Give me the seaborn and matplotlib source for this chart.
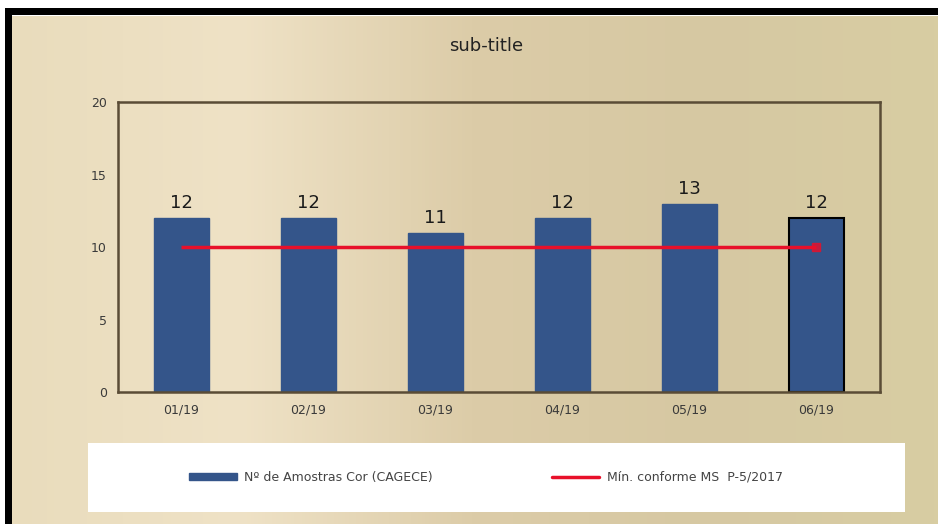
import numpy as np
import pandas as pd
import seaborn as sns
from matplotlib import pyplot as plt
from matplotlib.patches import Rectangle, Patch
from matplotlib.lines import Line2D
from matplotlib.colors import LinearSegmentedColormap

# Dados do grafico
meses = ["01/19", "02/19", "03/19", "04/19", "05/19", "06/19"]
amostras = [12, 12, 11, 12, 13, 12]
minimo = [10, 10, 10, 10, 10, 10]
rotulos = ["Nº de Amostras Cor (CAGECE)", "Mín. conforme MS  P-5/2017"]

df = pd.DataFrame({"mes": meses, "amostras": amostras, "minimo": minimo})

sns.set_style("white")
plt.rcParams['font.family'] = ['DejaVu Sans']

fig = plt.figure(figsize=(9.38, 5.24), dpi=100)
fig.patch.set_facecolor("white")

cor_barra = "#34558a"
cor_linha = "#e8102a"

# Fundo bege com gradiente
bg = fig.add_axes([0.0075, 0, 0.9925, 0.97])
grad = np.linspace(0, 1, 256).reshape(1, -1)
cmap = LinearSegmentedColormap.from_list("bege", ["#e9dcbc", "#efe2c6", "#dccca8", "#d6c8a2", "#d8cda2"])
bg.imshow(grad, aspect="auto", cmap=cmap, extent=[0, 1, 0, 1])
bg.set_axis_off()
bg.set_zorder(-10)

# Moldura preta (topo e esquerda)
fig.patches.append(Rectangle((0.005, 0.972), 0.995, 0.013, transform=fig.transFigure,
                             facecolor="black", edgecolor="none", zorder=5))
fig.patches.append(Rectangle((0.005, 0), 0.008, 0.985, transform=fig.transFigure,
                             facecolor="black", edgecolor="none", zorder=5))

# Caixa branca da legenda
fig.patches.append(Rectangle((0.094, 0.023), 0.871, 0.132, transform=fig.transFigure,
                             facecolor="white", edgecolor="none", zorder=1))

ax = fig.add_axes([0.1258, 0.252, 0.8122, 0.553])
ax.patch.set_alpha(0)
sns.barplot(data=df, x="mes", y="amostras", color=cor_barra, width=0.43,
            saturation=1, ax=ax, legend=False)
for p in ax.patches:
    p.set_edgecolor(cor_barra)
ax.patches[-1].set_edgecolor("black")
ax.patches[-1].set_linewidth(1.5)

for p, v in zip(ax.patches, amostras):
    ax.text(p.get_x() + p.get_width() / 2, v + 0.4, str(v), ha="center", va="bottom",
            fontsize=13, color="#1a1a1a")

ax.plot(range(len(meses)), minimo, color=cor_linha, lw=2.5, solid_capstyle="butt")
ax.plot([len(meses) - 1], [minimo[-1]], color=cor_linha, marker="s", markersize=6,
        linestyle="none", alpha=0.8)

ax.set_ylim(0, 20)
ax.set_xlim(-0.5, len(meses) - 0.5)
ax.set_yticks([0, 5, 10, 15, 20])
ax.set_xlabel("")
ax.set_ylabel("")
ax.tick_params(axis="both", labelsize=9, colors="#3a3a3a", length=0, pad=8)
for s in ax.spines.values():
    s.set_color("#5a4c36")
    s.set_linewidth(1.8)

fig.text(0.518, 0.912, "sub-title", ha="center", va="center", fontsize=13, color="#222222")

handles = [Patch(facecolor=cor_barra, edgecolor=cor_barra),
           Line2D([0], [0], color=cor_linha, lw=2.5)]
leg = fig.legend(handles, rotulos, loc="center", ncol=2, frameon=False, fontsize=9,
                 bbox_to_anchor=(0.518, 0.089), handlelength=3.8, handleheight=0.5,
                 handletextpad=0.6, columnspacing=9.5)
for t in leg.get_texts():
    t.set_color("#444444")
leg.set_zorder(6)

plt.savefig("out.png", dpi=100, facecolor=fig.get_facecolor())
